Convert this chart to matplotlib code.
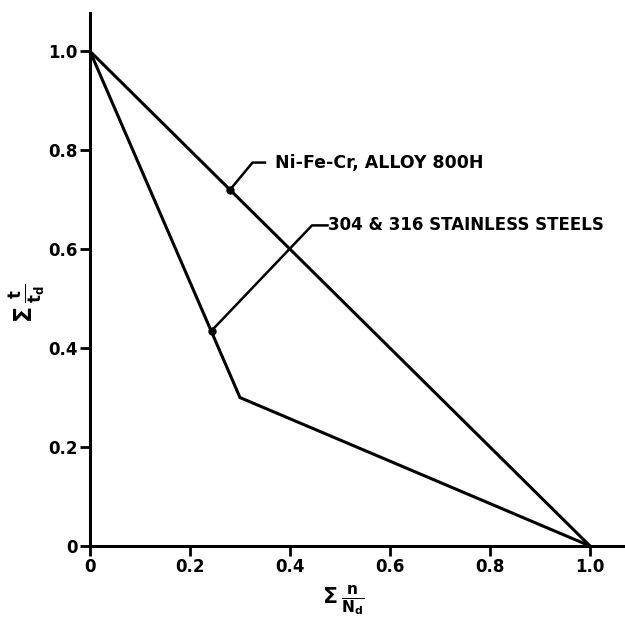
import numpy as np
import matplotlib
matplotlib.use("Agg")
import matplotlib.pyplot as plt

# data
alloy_x = [0.0, 1.0]
alloy_y = [1.0, 0.0]
steel_x = [0.0, 0.3, 1.0]
steel_y = [1.0, 0.3, 0.0]
ticks = [0, 0.2, 0.4, 0.6, 0.8, 1.0]
tick_labels = ['0', '0.2', '0.4', '0.6', '0.8', '1.0']

plt.rcParams['font.family'] = ['DejaVu Sans']
plt.rcParams['font.weight'] = 'bold'

fig = plt.figure(figsize=(6.25, 6.21), dpi=100)
ax = fig.add_axes([0.144, 0.1208, 0.856, 0.858])

ax.plot(alloy_x, alloy_y, color='black', lw=2.2, solid_capstyle='butt')
ax.plot(steel_x, steel_y, color='black', lw=2.2, solid_joinstyle='miter')

ax.set_xlim(0, 1.07)
ax.set_ylim(0, 1.077)
ax.spines['top'].set_visible(False)
ax.spines['right'].set_visible(False)
ax.spines['left'].set_linewidth(2.2)
ax.spines['bottom'].set_linewidth(2.2)

ax.set_xticks(ticks)
ax.set_xticklabels(tick_labels)
ax.set_yticks(ticks)
ax.set_yticklabels(tick_labels)
ax.tick_params(direction='out', length=7, width=2, labelsize=12, pad=2)

ax.set_xlabel(r'$\Sigma\,\frac{\mathbf{n}}{\mathbf{N_d}}$', fontsize=16)
ax.set_ylabel(r'$\Sigma\,\frac{\mathbf{t}}{\mathbf{t_d}}$', fontsize=17)
ax.xaxis.set_label_coords(0.473, -0.07)
ax.yaxis.set_label_coords(-0.08, 0.455)

# leader annotations
ax.plot([0.28, 0.325, 0.35], [0.72, 0.775, 0.775], color='black', lw=1.8)
ax.plot([0.28], [0.72], 'o', color='black', ms=5)
ax.text(0.37, 0.775, 'Ni-Fe-Cr, ALLOY 800H', fontsize=12.5, va='center', ha='left')

ax.plot([0.243, 0.444, 0.475], [0.435, 0.648, 0.648], color='black', lw=1.8)
ax.plot([0.243], [0.435], 'o', color='black', ms=5)
ax.text(0.477, 0.648, '304 & 316 STAINLESS STEELS', fontsize=12, va='center', ha='left')

fig.savefig('out.png', dpi=100)
